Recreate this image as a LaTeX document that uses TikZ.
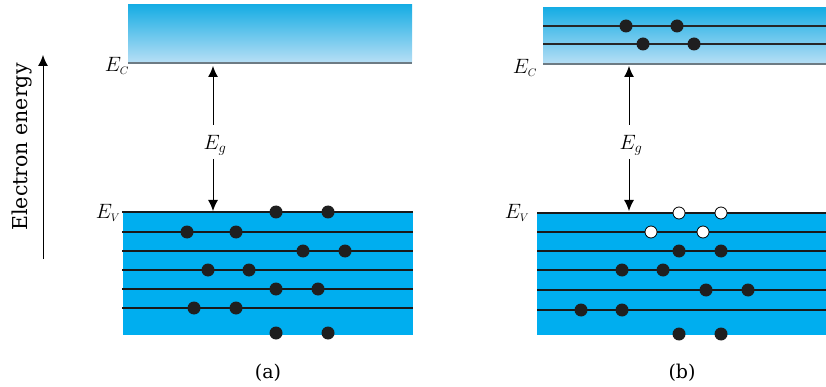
\documentclass[tikz,border=0pt]{standalone}
\usepackage{fontspec}
\setmainfont{DejaVu Serif}
\usetikzlibrary{arrows.meta}
\definecolor{vband}{HTML}{00AEEF}
\definecolor{ctop}{HTML}{17ADE4}
\definecolor{cbot}{HTML}{B8DFF5}
\definecolor{cline}{HTML}{6D7B84}
\tikzset{
  level/.style={line width=1.1pt, black!90},
  elec/.style={circle, fill=black!88, inner sep=0pt, minimum size=13pt},
  hole/.style={circle, fill=white, draw=black, line width=0.8pt, inner sep=0pt, minimum size=12pt},
  gaparrow/.style={line width=1pt, -{Latex[length=11pt,width=10pt]}},
  lbl/.style={inner sep=0pt, font=\fontsize{21}{24}\selectfont},
  captxt/.style={inner sep=0pt, font=\fontsize{19}{22}\selectfont}
}
\begin{document}
\begin{tikzpicture}[x=1pt,y=-1pt]
\useasboundingbox (0,0) rectangle (826,387);
% energy axis
\node[inner sep=0pt, rotate=90, font=\fontsize{20.5}{22}\selectfont] (axis) at (22,147) {Electron energy};
\coordinate (ax0) at (43,259);
\coordinate (ax1) at (43,55);
\draw[gaparrow] (ax0) -- (ax1);

% ---------- panel (a) ----------
\shade[top color=ctop, bottom color=cbot] (128,5) rectangle (412,63);
\draw[cline, line width=1.6pt] (128,63) -- (412,63);
\fill[vband] (123,212) rectangle (413,335);
\foreach \y in {212,232,251,270,289,308} \draw[level] (122,\y) -- (413,\y);
\node[lbl] (ECa) at (117,66) {$E_{\scriptscriptstyle C}$};
\node[lbl] (EVa) at (108,213) {$E_{\scriptscriptstyle V}$};
\node[lbl] (Ega) at (215,145) {$E_g$};
\coordinate (ca) at (213,66);
\coordinate (va) at (213,211);
\coordinate (ga1) at (213,125);
\coordinate (ga2) at (213,159);
\draw[gaparrow] (ga1) -- (ca);
\draw[gaparrow] (ga2) -- (va);
\foreach \x/\y in {276/212,328/212,187/232,236/232,303/251,345/251,208/270,249/270,276/289,318/289,194/308,236/308,276/333,328/333}
  \node[elec] at (\x,\y) {};
\node[captxt] (a) at (268,373) {(a)};

% ---------- panel (b) ----------
\shade[top color=ctop, bottom color=cbot] (543,8) rectangle (826,64);
\draw[cline, line width=1.6pt] (543,64) -- (826,64);
\foreach \y in {26,44} \draw[level, black!85] (543,\y) -- (826,\y);
\foreach \x/\y in {626/26,677/26,643/44,694/44}
  \node[elec] at (\x,\y) {};
\fill[vband] (537,212) rectangle (826,335);
\foreach \y in {213,232,251,270,290,310} \draw[level] (537,\y) -- (826,\y);
\node[lbl] (ECb) at (525,68) {$E_{\scriptscriptstyle C}$};
\node[lbl] (EVb) at (517,213) {$E_{\scriptscriptstyle V}$};
\node[lbl] (Egb) at (631,145) {$E_g$};
\coordinate (cb) at (629,66);
\coordinate (vb) at (629,211);
\coordinate (gb1) at (629,125);
\coordinate (gb2) at (629,159);
\draw[gaparrow] (gb1) -- (cb);
\draw[gaparrow] (gb2) -- (vb);
\foreach \x/\y in {679/213,721/213,651/232,703/232}
  \node[hole] at (\x,\y) {};
\foreach \x/\y in {679/251,721/251,622/270,663/270,706/290,748/290,581/310,622/310,679/334,721/334}
  \node[elec] at (\x,\y) {};
\node[captxt] (b) at (682,373) {(b)};
\end{tikzpicture}
\end{document}
